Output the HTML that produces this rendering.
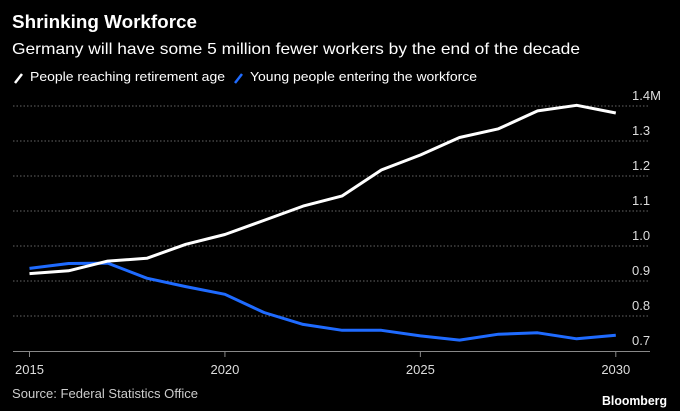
<!DOCTYPE html>
<html><head><meta charset="utf-8"><style>
html,body{margin:0;padding:0;background:#000;}
svg{display:block;font-family:"Liberation Sans",sans-serif;}
</style></head><body>
<svg id="chart" width="680" height="411">
<rect width="680" height="411" fill="#000"/>
<text x="12" y="28" fill="#fff" font-size="18" font-weight="bold" textLength="185" lengthAdjust="spacingAndGlyphs">Shrinking Workforce</text>
<text x="12" y="54" fill="#fff" font-size="16" textLength="568" lengthAdjust="spacingAndGlyphs">Germany will have some 5 million fewer workers by the end of the decade</text>
<g>
<line x1="15" y1="83" x2="22" y2="74" stroke="#fff" stroke-width="2.5"/>
<text x="30" y="81" fill="#fff" font-size="13" textLength="195" lengthAdjust="spacingAndGlyphs">People reaching retirement age</text>
<line x1="235" y1="83" x2="242" y2="74" stroke="#1f6bff" stroke-width="2.5"/>
<text x="250" y="81" fill="#fff" font-size="13" textLength="227" lengthAdjust="spacingAndGlyphs">Young people entering the workforce</text>
</g>
<g id="grid"></g><g id="axes"></g><g id="series"></g>
<text x="12" y="398" fill="#ccc" font-size="13" textLength="186" lengthAdjust="spacingAndGlyphs">Source: Federal Statistics Office</text>
<text x="667" y="405" fill="#fff" font-size="13" font-weight="bold" text-anchor="end" textLength="65" lengthAdjust="spacingAndGlyphs">Bloomberg</text>
</svg>
<script>
const years = [2015,2016,2017,2018,2019,2020,2021,2022,2023,2024,2025,2026,2027,2028,2029,2030];
const retirement = [0.921,0.929,0.957,0.965,1.005,1.033,1.073,1.114,1.143,1.217,1.26,1.31,1.335,1.386,1.402,1.38];
const young = [0.936,0.95,0.951,0.908,0.884,0.862,0.81,0.776,0.759,0.759,0.743,0.731,0.748,0.752,0.735,0.745];
const yTicks = [0.7,0.8,0.9,1.0,1.1,1.2,1.3,1.4];
const yTickLabels = ["0.7","0.8","0.9","1.0","1.1","1.2","1.3","1.4M"];
const xTicks = [2015,2020,2025,2030];

const NS="http://www.w3.org/2000/svg";
const xs = y => 29.5 + (y-2015)*(615.8-29.5)/15;
const ys = v => 351 - (v-0.7)*350;
function mk(tag, attrs, parent){const e=document.createElementNS(NS,tag);for(const k in attrs)e.setAttribute(k,attrs[k]);parent.appendChild(e);return e;}
const grid=document.getElementById('grid'), axes=document.getElementById('axes'), series=document.getElementById('series');
yTicks.forEach((t,i)=>{
  if(i>0){
    const l=mk('line',{x1:13,x2:650,y1:ys(t),y2:ys(t),stroke:'#666','stroke-width':1,'stroke-dasharray':'1.5,2'},grid);
    
    
  }
  const tx=mk('text',{x:632,y:ys(t)-6,fill:'#ddd','font-size':13},axes);
  tx.textContent=yTickLabels[i];
  
  
});
const ax=mk('line',{x1:13,x2:650,y1:351.5,y2:351.5,stroke:'#888','stroke-width':1},axes);


xTicks.forEach(t=>{
  const tk=mk('line',{x1:xs(t),x2:xs(t),y1:352,y2:357,stroke:'#888'},axes);
  
  
  const tx=mk('text',{x:xs(t),y:374,fill:'#ddd','font-size':13,'text-anchor':'middle'},axes);
  tx.textContent=t;
  
  
});
function line(vals,color,name){
  const d=vals.map((v,i)=>(i?'L':'M')+xs(years[i]).toFixed(1)+','+ys(v).toFixed(1)).join('');
  const p=mk('path',{d:d,fill:'none',stroke:color,'stroke-width':3,'stroke-linejoin':'round'},series);
  
  
}
line(young,'#1f6bff','young-people-line');
line(retirement,'#ffffff','retirement-line');
</script>
</body></html>
